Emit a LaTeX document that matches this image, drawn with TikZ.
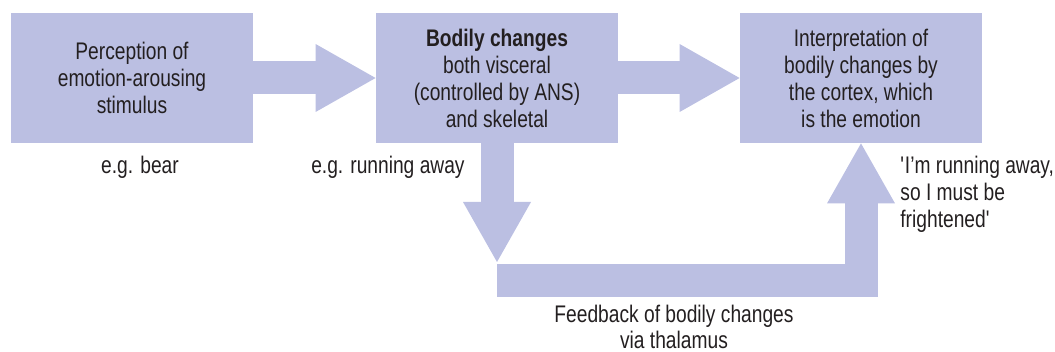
\documentclass[tikz,border=0pt]{standalone}
\usepackage{fontspec}
\setmainfont{Liberation Sans}[FakeStretch=0.8]
\usetikzlibrary{arrows.meta}
\definecolor{boxblue}{RGB}{187,191,226}
\definecolor{txtgray}{RGB}{35,31,32}

\begin{document}
\begin{tikzpicture}[x=0.5pt,y=-0.5pt]
\tikzstyle{stage}=[fill=boxblue, minimum width=121pt, minimum height=65pt, align=center, text=txtgray, font=\fontsize{12}{13.5}\selectfont]
\tikzstyle{note}=[text=txtgray, font=\fontsize{12}{13.5}\selectfont, inner sep=0pt]
\tikzstyle{fat}=[color=boxblue, line width=16.5pt, -{Triangle[width=34pt,length=30pt,line width=0pt]}]
    \useasboundingbox (0,0) rectangle (1055,352);

    \node[stage] (percept) at (132,78) {Perception of\\emotion-arousing\\stimulus};
    \node[stage] (bodily) at (497,78) {\textbf{Bodily changes}\\both visceral\\(controlled by ANS)\\and skeletal};
    \node[stage] (interp) at (861,78) {Interpretation of\\bodily changes by\\the cortex, which\\is the emotion};

    \coordinate (drop) at (497,262);
    \coordinate (loop) at (497,280.5);

    \draw[fat] (percept) -- (bodily);
    \draw[fat] (bodily) -- (interp);
    \draw[fat] (bodily) -- (drop);
    \draw[fat] (loop) -| (interp);

    \node[note] (bear) at (140,167) {e.g. bear};
    \node[note, anchor=east] (run) at (465,167) {e.g. running away};
    \node[note, align=left, anchor=west] (thought) at (900,194) {\textquotesingle I’m running away,\\so I must be\\frightened\textquotesingle};
    \node[note, align=center, font=\fontsize{12}{12.8}\selectfont] (feed) at (674,327) {Feedback of bodily changes\\via thalamus};

\end{tikzpicture}
\end{document}
